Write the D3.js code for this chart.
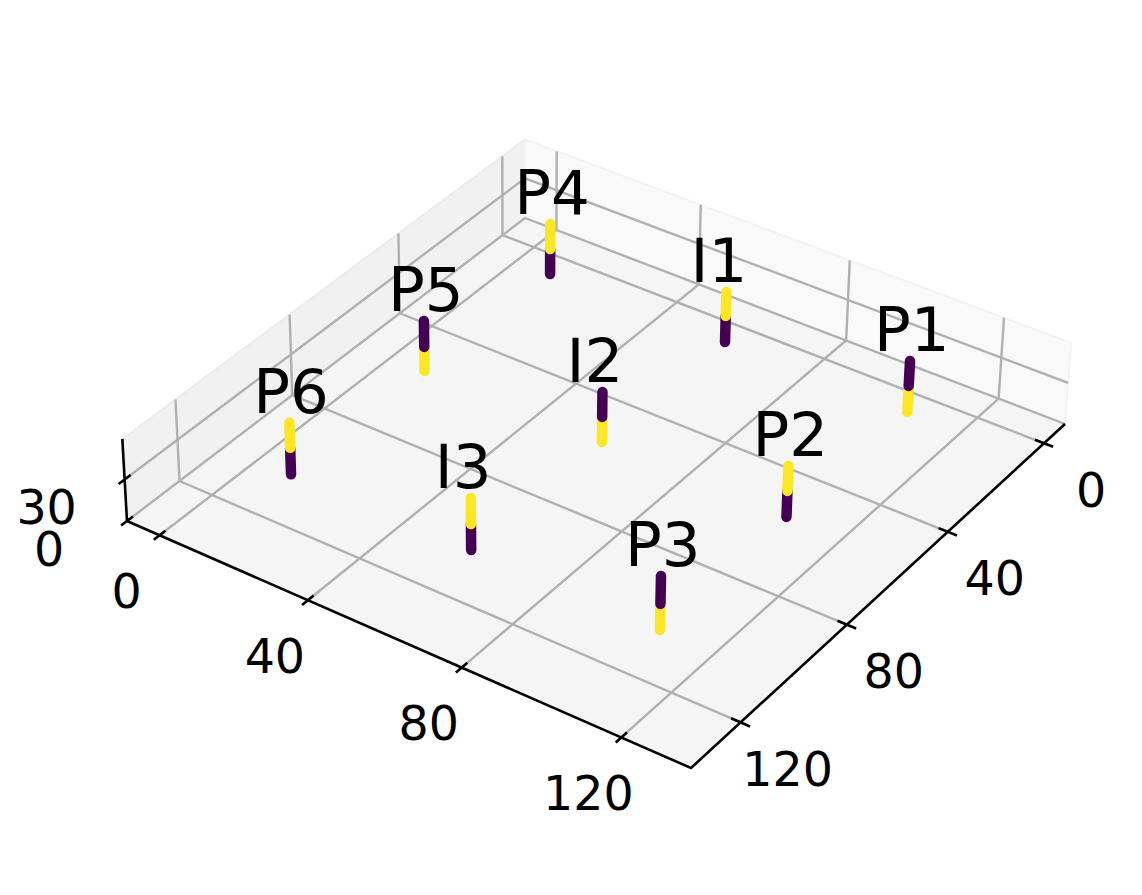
<!DOCTYPE html>
<html><head><meta charset="utf-8"><script src="https://cdn.jsdelivr.net/npm/d3@7"></script>
<style>html,body{margin:0;background:#fff}svg{display:block}text{font-family:"DejaVu Sans";fill:#000}</style></head>
<body><svg id="c" width="1142" height="895"></svg>
<script>
const names=["P1","P2","P3","I1","I2","I3","P4","P5","P6"];
const xVals=[106.2,105.9,106.2,58.0,57.6,57.6,9.6,9.4,9.3];
const yVals=[7.0,55.3,103.9,7.2,55.2,103.9,7.1,55.4,104.1];
const zBase=[0,0,0,0,0,0,0,0,0];
const zMid=[19.1,18.8,18.5,19.3,18.3,18.7,18.7,17.7,19.3];
const zTop=[37.3,36.7,38.3,36.9,36.4,37.3,37.4,36.8,37.4];
const lowerState=[1,0,1,0,1,0,0,1,0];
const upperState=[0,1,0,1,0,1,1,0,1];
const xTicks=[0,40,80,120], yTicks=[0,40,80,120], zTicks=[0,30];
const xLim=[-9,137], yLim=[-9,138], zLim=[0,59];
const T=[525,218],R=[1065,424],B=[691,768],L=[127,521];
const Tt=[525,141],Rt=[1070,343],Lt=[123,437],VP=[525,7500];
const sx=T[0]-R[0]+B[0]-L[0],sy=T[1]-R[1]+B[1]-L[1],dx1=R[0]-B[0],dx2=L[0]-B[0],dy1=R[1]-B[1],dy2=L[1]-B[1];
const den=dx1*dy2-dx2*dy1,g=(sx*dy2-dx2*sy)/den,h=(dx1*sy-sx*dy1)/den;
const a=R[0]-T[0]+g*R[0],b=L[0]-T[0]+h*L[0],c=T[0],d=R[1]-T[1]+g*R[1],e=L[1]-T[1]+h*L[1],f=T[1];
const U=d3.scaleLinear().domain(xLim).range([0,1]),V=d3.scaleLinear().domain(yLim).range([0,1]),Z=d3.scaleLinear().domain(zLim).range([0,1]);
const al=d3.mean([[T,Tt,1],[R,Rt,g+1],[L,Lt,h+1]],([p,q,w])=>w*(p[1]-q[1])/(q[1]-VP[1]));
function P(x,y,z){const u=U(x),v=V(y),t=Z(z),W=g*u+h*v+1+t*al;return[(a*u+b*v+c+t*al*VP[0])/W,(d*u+e*v+f+t*al*VP[1])/W];}
const color=d3.scaleSequential(d3.interpolateViridis).domain([0,1]);
const svg=d3.select("#c"),line=d3.line();
const [x0,x1]=xLim,[y0,y1]=yLim,[z0,z1]=zLim;
const pane=(pts,fill,stroke)=>svg.append("path").attr("d",line(pts)+"Z").attr("fill",fill).attr("stroke",stroke).attr("stroke-width",2);
pane([P(x0,y1,z0),P(x0,y0,z0),P(x0,y0,z1),P(x0,y1,z1)],"#f1f1f1","#ececec");
pane([P(x0,y0,z0),P(x1,y0,z0),P(x1,y0,z1),P(x0,y0,z1)],"#f9f9f9","#f3f3f3");
pane([P(x0,y0,z0),P(x1,y0,z0),P(x1,y1,z0),P(x0,y1,z0)],"#f5f5f5","#f5f5f5");
const G=(pts)=>svg.append("path").attr("d",line(pts)).attr("fill","none").attr("stroke","#b0b0b0").attr("stroke-width",2.4);
xTicks.forEach(t=>G([P(t,y1,z0),P(t,y0,z0),P(t,y0,z1)]));
yTicks.forEach(t=>G([P(x1,t,z0),P(x0,t,z0),P(x0,t,z1)]));
zTicks.forEach(t=>G([P(x0,y1,t),P(x0,y0,t),P(x1,y0,t)]));
const K=(pts)=>svg.append("path").attr("d",line(pts)).attr("fill","none").attr("stroke","#000").attr("stroke-width",2.6);
K([P(x0,y1,z0),P(x1,y1,z0),P(x1,y0,z0)]);K([P(x0,y1,z0),P(x0,y1,z1)]);
const lab=(s,p,dx,dy)=>svg.append("text").attr("x",p[0]+dx).attr("y",p[1]+dy).attr("text-anchor","middle").attr("dominant-baseline","central").attr("font-size",47.5).text(s);
xTicks.forEach(t=>{K([P(t,y1-2,z0),P(t,y1+2,z0)]);lab(t,P(t,y1,z0),-33,56);});
yTicks.forEach(t=>{K([P(x1-2.3,t,z0),P(x1+2.3,t,z0)]);lab(t,P(x1,t,z0),47,47);});
zTicks.forEach(t=>{K([P(x0,y1-2,t),P(x0,y1+2,t)]);lab(t,P(x0,y1,t),-78,28);});
const seg=(p,q,s)=>svg.append("path").attr("d",line([p,q])).attr("fill","none").attr("stroke",color(s)).attr("stroke-width",10.5).attr("stroke-linecap","round");
names.forEach((n,i)=>{
  const pb=P(xVals[i],yVals[i],zBase[i]),pm=P(xVals[i],yVals[i],zMid[i]),pt=P(xVals[i],yVals[i],zTop[i]);
  seg(pb,pm,lowerState[i]);seg(pm,pt,upperState[i]);
});
names.forEach((n,i)=>{
  const pt=P(xVals[i],yVals[i],zTop[i]);
  svg.append("text").attr("x",pt[0]-36).attr("y",pt[1]-10).attr("font-size",61).text(n);
});
</script></body></html>
